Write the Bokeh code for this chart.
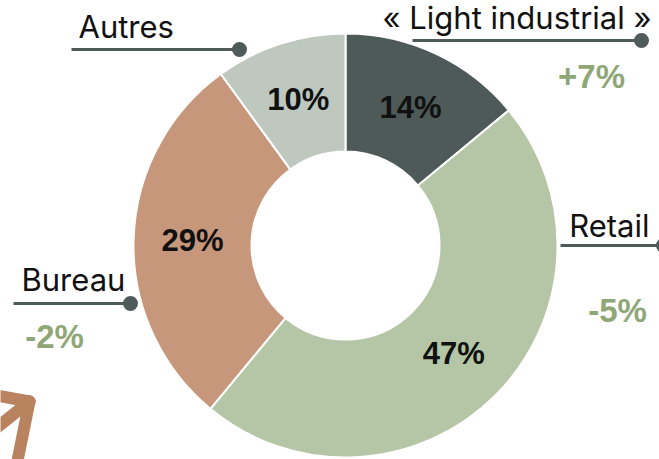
import math
from bokeh.plotting import figure
from bokeh.models import Range1d, ColumnDataSource
from bokeh.core.properties import value
from bokeh.embed import file_html
from bokeh.resources import INLINE

# ---- data ----
categories = ["« Light industrial »", "Retail", "Bureau", "Autres"]
shares = [14, 47, 29, 10]
share_labels = ["14%", "47%", "29%", "10%"]
changes = ["+7%", "-5%", "-2%", ""]
colors = ["#4d5a57", "#b5c6a6", "#c6977b", "#bec8bf"]

W, H = 659, 459
PAGE_H = 459


def py(y):  # page-pixel y -> data y
    return PAGE_H - y


p = figure(width=W, height=H, output_backend="svg", toolbar_location=None,
           x_range=Range1d(0, W), y_range=Range1d(PAGE_H - H, PAGE_H),
           min_border=0, outline_line_color=None, background_fill_color="white",
           border_fill_color="white")
p.axis.visible = False
p.grid.visible = False

cx, cy = 345, py(245)
r_out, r_in = 212, 94

total = float(sum(shares))
starts, ends, mids = [], [], []
acc = 0.0
for s in shares:
    a0 = math.pi / 2 - 2 * math.pi * acc / total
    acc += s
    a1 = math.pi / 2 - 2 * math.pi * acc / total
    starts.append(a0)
    ends.append(a1)
    mids.append((a0 + a1) / 2)

r_lab = 153
src = ColumnDataSource(dict(
    x=[cx] * len(shares), y=[cy] * len(shares), start=starts, end=ends, color=colors,
    lx=[cx + r_lab * math.cos(m) for m in mids],
    ly=[cy + r_lab * math.sin(m) for m in mids],
    lab=share_labels,
))
p.annular_wedge(x="x", y="y", inner_radius=r_in, outer_radius=r_out,
                start_angle="start", end_angle="end", direction="clock",
                fill_color="color", line_color="white", line_width=2, source=src)
p.text(x="lx", y="ly", text="lab", source=src, text_align="center",
       text_baseline="middle", text_font=value("Liberation Sans"),
       text_font_style="bold", text_font_size="31px", text_color="#111111")

# ---- leader labels ----
line_col = "#4e5b58"
# (text x, text middle y, align, line x0, line x1, line y)
label_layout = {
    "« Light industrial »": (651, 17, "right", 412, 641, 40),
    "Retail": (649, 225, "right", 560, 663, 245),
    "Bureau": (21, 279, "left", 13, 130, 303),
    "Autres": (78, 26, "left", 71, 239, 49),
}
change_layout = {
    "« Light industrial »": (591, 76),
    "Retail": (617, 310),
    "Bureau": (54, 336),
}
for cat in categories:
    tx, ty, al, x0, x1, ly = label_layout[cat]
    p.segment(x0=[x0], y0=[py(ly)], x1=[x1], y1=[py(ly)], line_color=line_col, line_width=3)
    p.scatter(x=[x1], y=[py(ly)], size=15, marker="circle", fill_color=line_col, line_color=None)
    p.text(x=[tx], y=[py(ty)], text=[cat], text_align=al, text_baseline="middle",
           text_font=value("Inter"), text_font_size="31px", text_color="#111111")

for cat, ch in zip(categories, changes):
    if not ch:
        continue
    x, y = change_layout[cat]
    p.text(x=[x], y=[py(y)], text=[ch], text_align="center", text_baseline="middle",
           text_font=value("Liberation Sans"), text_font_style="bold", text_font_size="33px",
           text_color="#8fa777")

# ---- decorative arrow (bottom-left) ----
arrow_col = "#b9835f"
corner = (29, 401)
p.multi_line(xs=[[corner[0], -10], [corner[0], -20], [corner[0], 13]],
             ys=[[py(corner[1]), py(394)], [py(corner[1]), py(440)], [py(corner[1]), py(480)]],
             line_color=arrow_col, line_width=12, line_cap="round", line_join="round")

open("out.html", "w").write(file_html(p, INLINE))
